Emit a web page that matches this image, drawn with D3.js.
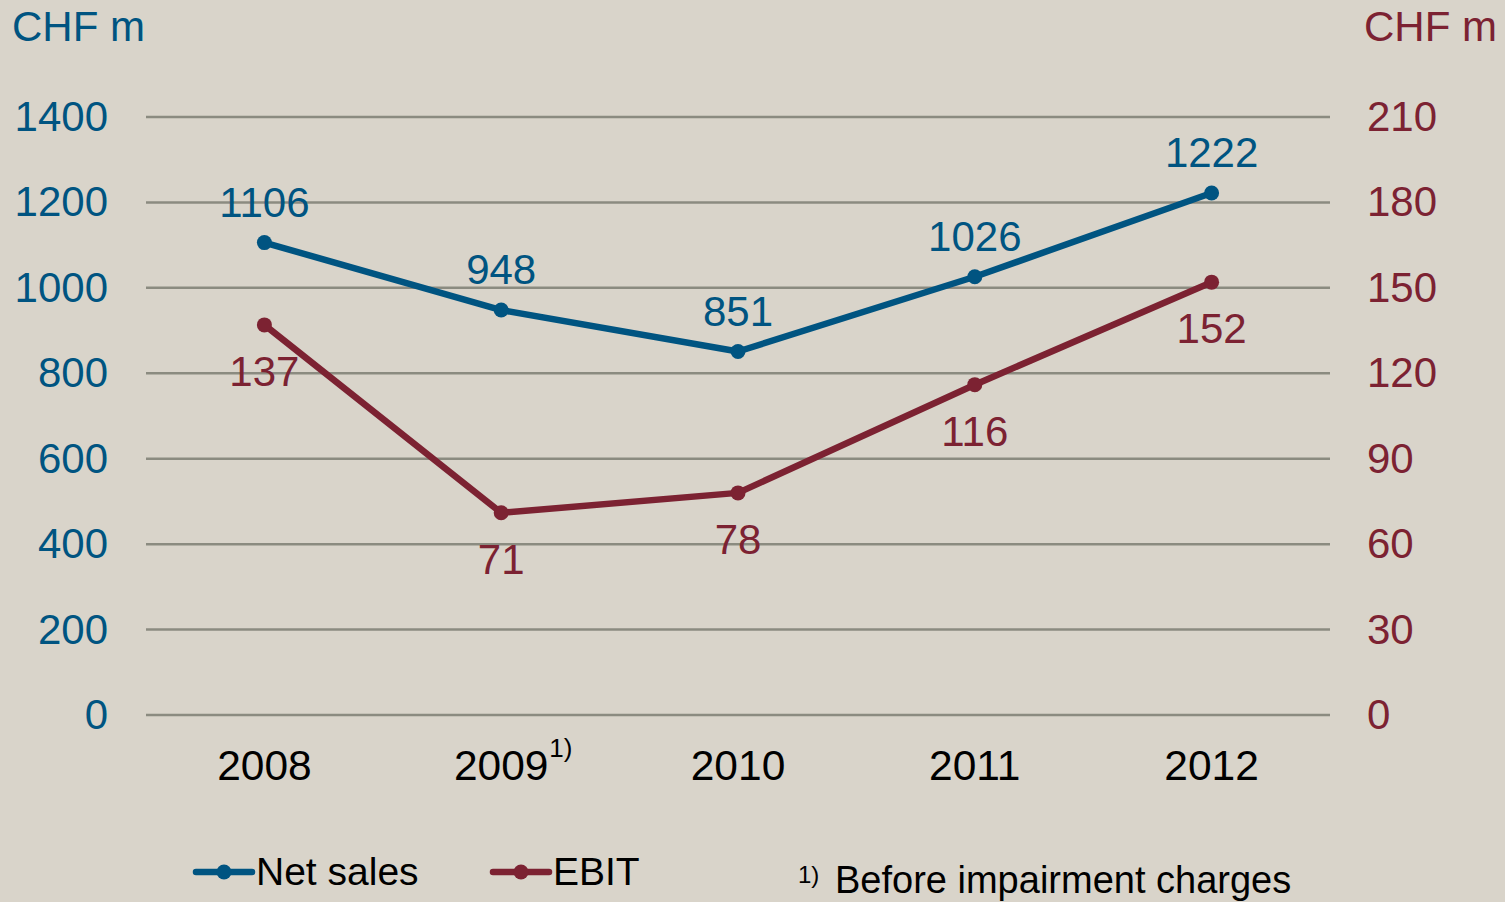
<!DOCTYPE html>
<html>
<head>
<meta charset="utf-8">
<script src="https://cdn.jsdelivr.net/npm/d3@7"></script>
<style>
  html, body { margin: 0; padding: 0; background: #d9d4ca; }
  svg { display: block; font-family: "Liberation Sans", Arial, sans-serif; }
</style>
</head>
<body>
<script>
// data
var years = ["2008", "2009", "2010", "2011", "2012"];
var yearNotes = ["", "1)", "", "", ""];
var netSales = [1106, 948, 851, 1026, 1222];
var ebit = [137, 71, 78, 116, 152];
var leftTicks = [0, 200, 400, 600, 800, 1000, 1200, 1400];
var rightTicks = [0, 30, 60, 90, 120, 150, 180, 210];

var blue = "#005481";
var red = "#7c2232";
var grid = "#8b8b80";

var w = 1505;
var h = 902;
var plotLeft = 146, plotRight = 1330, plotTop = 117, plotBottom = 715;

var svg = d3.select("body")
    .append("svg")
    .attr("width", w)
    .attr("height", h);

svg.append("rect")
    .attr("width", w)
    .attr("height", h)
    .attr("fill", "#d9d4ca");

var xScale = d3.scalePoint()
    .domain(years)
    .range([plotLeft, plotRight])
    .padding(0.5);

var yLeft = d3.scaleLinear()
    .domain([0, 1400])
    .range([plotBottom, plotTop]);

var yRight = d3.scaleLinear()
    .domain([0, 210])
    .range([plotBottom, plotTop]);

// gridlines
svg.append("g")
    .selectAll("line")
    .data(leftTicks)
    .enter()
    .append("line")
    .attr("x1", plotLeft)
    .attr("x2", plotRight)
    .attr("y1", d => yLeft(d))
    .attr("y2", d => yLeft(d))
    .attr("stroke", grid)
    .attr("stroke-width", 2.5);

// left axis
var leftAxis = d3.axisLeft(yLeft)
    .tickValues(leftTicks)
    .tickFormat(d3.format("d"))
    .tickSize(0)
    .tickPadding(38);

var gl = svg.append("g")
    .attr("transform", "translate(" + plotLeft + ",0)")
    .call(leftAxis);
gl.select(".domain").remove();
gl.selectAll("text")
    .attr("fill", blue)
    .attr("font-size", 42)
    .attr("font-family", "Liberation Sans, Arial, sans-serif");

// right axis
var rightAxis = d3.axisRight(yRight)
    .tickValues(rightTicks)
    .tickFormat(d3.format("d"))
    .tickSize(0)
    .tickPadding(37);

var gr = svg.append("g")
    .attr("transform", "translate(" + plotRight + ",0)")
    .call(rightAxis);
gr.select(".domain").remove();
gr.selectAll("text")
    .attr("fill", red)
    .attr("font-size", 42)
    .attr("font-family", "Liberation Sans, Arial, sans-serif");

// x axis labels
svg.append("g")
    .selectAll("text")
    .data(years)
    .enter()
    .append("text")
    .attr("x", d => xScale(d))
    .attr("y", 780)
    .attr("text-anchor", "middle")
    .attr("font-size", 42.5)
    .attr("fill", "#000")
    .text(d => d);

svg.append("g")
    .selectAll("text")
    .data(years.filter((d, i) => yearNotes[i] !== ""))
    .enter()
    .append("text")
    .attr("x", d => xScale(d) + 48)
    .attr("y", 757)
    .attr("font-size", 26)
    .attr("fill", "#000")
    .text(d => yearNotes[years.indexOf(d)]);

// unit labels
svg.append("text")
    .attr("x", 12)
    .attr("y", 41)
    .attr("font-size", 42)
    .attr("fill", blue)
    .text("CHF m");

svg.append("text")
    .attr("x", 1497)
    .attr("y", 41)
    .attr("text-anchor", "end")
    .attr("font-size", 42)
    .attr("fill", red)
    .text("CHF m");

// lines
function drawSeries(values, scale, color, labelDy) {
    var line = d3.line()
        .x((d, i) => xScale(years[i]))
        .y(d => scale(d));

    svg.append("path")
        .datum(values)
        .attr("d", line)
        .attr("fill", "none")
        .attr("stroke", color)
        .attr("stroke-width", 6.5)
        .attr("stroke-linejoin", "round");

    svg.append("g")
        .selectAll("circle")
        .data(values)
        .enter()
        .append("circle")
        .attr("cx", (d, i) => xScale(years[i]))
        .attr("cy", d => scale(d))
        .attr("r", 7.5)
        .attr("fill", color);

    svg.append("g")
        .selectAll("text")
        .data(values)
        .enter()
        .append("text")
        .attr("x", (d, i) => xScale(years[i]))
        .attr("y", d => scale(d) + labelDy)
        .attr("text-anchor", "middle")
        .attr("font-size", 42)
        .attr("fill", color)
        .text(d => d);
}

drawSeries(ebit, yRight, red, 61);
drawSeries(netSales, yLeft, blue, -26);

// legend
var legend = [["Net sales", blue, 196], ["EBIT", red, 493]];
legend.forEach(function (l) {
    var g = svg.append("g");
    g.append("line")
        .attr("x1", l[2])
        .attr("x2", l[2] + 56)
        .attr("y1", 872)
        .attr("y2", 872)
        .attr("stroke", l[1])
        .attr("stroke-width", 6.5)
        .attr("stroke-linecap", "round");
    g.append("circle")
        .attr("cx", l[2] + 28)
        .attr("cy", 872)
        .attr("r", 7.5)
        .attr("fill", l[1]);
    g.append("text")
        .attr("x", l[2] + 60)
        .attr("y", 885)
        .attr("font-size", 39)
        .attr("fill", "#000")
        .text(l[0]);
});

// footnote
svg.append("text")
    .attr("x", 798)
    .attr("y", 883)
    .attr("font-size", 24)
    .attr("fill", "#000")
    .text("1)");

svg.append("text")
    .attr("x", 835)
    .attr("y", 893)
    .attr("font-size", 38)
    .attr("fill", "#000")
    .text("Before impairment charges");
</script>
</body>
</html>
